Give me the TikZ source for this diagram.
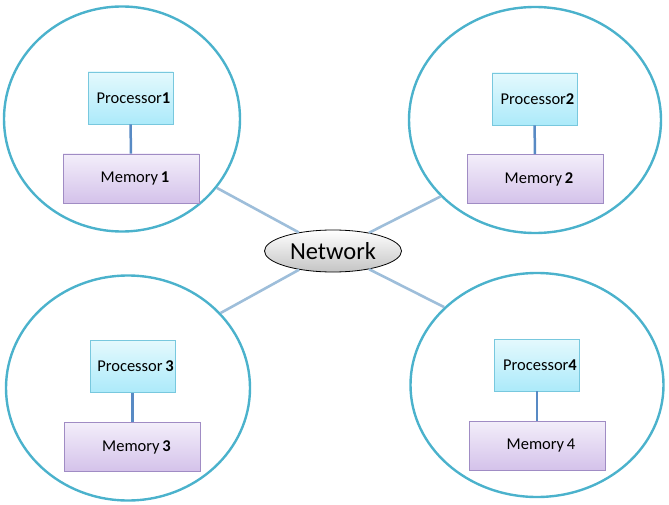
\documentclass[tikz,border=0pt]{standalone}
\usepackage{fontspec}
\setmainfont{Carlito}
\usetikzlibrary{shapes.geometric}
\definecolor{ringc}{RGB}{75,178,204}
\definecolor{proctop}{RGB}{228,249,253}
\definecolor{procbot}{RGB}{172,234,250}
\definecolor{procline}{RGB}{120,200,222}
\definecolor{memtop}{RGB}{243,238,250}
\definecolor{membot}{RGB}{212,194,234}
\definecolor{memline}{RGB}{160,140,196}
\definecolor{innerlink}{RGB}{88,138,196}
\definecolor{netlink}{RGB}{158,190,218}
\definecolor{netbot}{RGB}{196,196,196}
\tikzset{
  ring/.style={ellipse, draw=ringc, line width=2.4pt, inner sep=0pt},
  procbox/.style={rectangle, draw=procline, line width=0.8pt, top color=proctop, bottom color=procbot,
     minimum width=85pt, minimum height=52pt, inner sep=0pt, font=\fontsize{16.5}{19}\selectfont},
  membox/.style={rectangle, draw=memline, line width=0.8pt, top color=memtop, bottom color=membot,
     minimum width=136pt, minimum height=49pt, inner sep=0pt, font=\fontsize{16.5}{19}\selectfont},
  plink/.style={draw=innerlink, line width=2.5pt},
  nlink/.style={draw=netlink, line width=2.6pt},
  netnode/.style={ellipse, draw=black, line width=0.8pt, top color=white, bottom color=netbot,
     minimum width=137pt, minimum height=42pt, inner sep=0pt, font=\fontsize{24.5}{28}\selectfont}
}
\begin{document}
\begin{tikzpicture}[x=1pt, y=-1pt]
\useasboundingbox (0,0) rectangle (669,505);
% rings
\node[ring, minimum width=236pt, minimum height=225pt] (c1) at (122,119) {};
\node[ring, minimum width=252pt, minimum height=226pt] (c2) at (535,120) {};
\node[ring, minimum width=244pt, minimum height=225pt] (c3) at (128,388) {};
\node[ring, minimum width=253pt, minimum height=224pt] (c4) at (537,385) {};
% network
\node[netnode] (net) at (333,251) {Network};
\path[nlink] (net) -- (c1.-36);
\path[nlink] (net) -- (c2.-141);
\path[nlink] (net) -- (c3.39);
\path[nlink] (net) -- (c4.140);
% processors and memories
\node[procbox] (p1) at (130.5,98) {\hspace*{6pt}Processor\textbf{1}};
\node[membox]  (m1) at (131,178.5) {\hspace*{8pt}Memory\,\textbf{1}};
\node[procbox] (p2) at (534.5,99) {\hspace*{6pt}Processor\textbf{2}};
\node[membox]  (m2) at (535,179) {\hspace*{8pt}Memory\,\textbf{2}};
\node[procbox] (p3) at (132.5,366.5) {\hspace*{6pt}Processor\,\textbf{3}};
\node[membox]  (m3) at (132.5,447) {\hspace*{8pt}Memory\,\textbf{3}};
\node[procbox] (p4) at (537,365) {\hspace*{6pt}Processor\textbf{4}};
\node[membox]  (m4) at (537,445.5) {\hspace*{8pt}Memory\,4};
\path[plink] (p1) -- (m1);
\path[plink] (p2) -- (m2);
\path[plink] (p3) -- (m3);
\path[plink] (p4) -- (m4);
\end{tikzpicture}
\end{document}
